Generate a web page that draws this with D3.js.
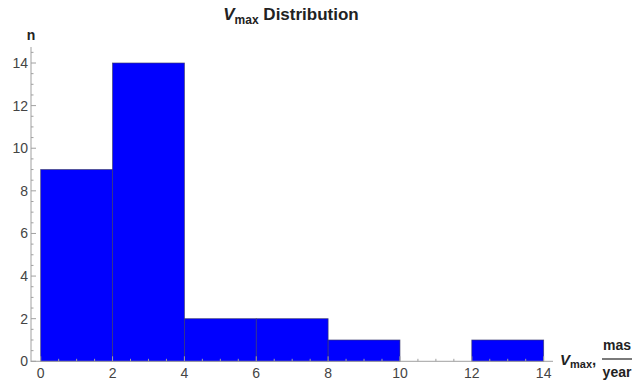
<!DOCTYPE html>
<html><head><meta charset="utf-8">
<script src="https://cdn.jsdelivr.net/npm/d3@7"></script>
<style>body{margin:0;background:#fff}svg{display:block;font-family:"Liberation Sans",Arial,sans-serif}</style>
</head><body><svg id="c" width="644" height="385"></svg>
<script>
const binStarts = [0, 2, 4, 6, 8, 10, 12];
const binWidth = 2;
const counts = [9, 14, 2, 2, 1, 0, 1];
const xTicks = [0, 2, 4, 6, 8, 10, 12, 14];
const yTicks = [0, 2, 4, 6, 8, 10, 12, 14];

const svg = d3.select("#c");
const x = d3.scaleLinear().domain([-0.27, 14.26]).range([31, 553]);
const y = d3.scaleLinear().domain([0, 14]).range([361.3, 63]);
const axisCol = "#a0a0a0", txtCol = "#444";

// bars
svg.append("g").selectAll("rect").data(counts.map((c,i)=>({s:binStarts[i],c})).filter(d=>d.c>0))
  .join("rect")
  .attr("x", d=>x(d.s)).attr("width", d=>x(d.s+binWidth)-x(d.s))
  .attr("y", d=>y(d.c)).attr("height", d=>y(0)-y(d.c))
  .attr("fill", "#0000ff").attr("stroke", "#3a3a6a").attr("stroke-width", 0.8).attr("stroke-opacity", 0.8);

// y axis
const ya = svg.append("g");
ya.append("line").attr("x1", 31).attr("x2", 31).attr("y1", 47).attr("y2", 362).attr("stroke", axisCol);
const yMinor = d3.range(0, 14.75, 0.5);
ya.selectAll("line.t").data(yMinor).join("line").attr("class","t")
  .attr("x1", 31).attr("x2", d=> d%2===0 ? 36 : 33.5)
  .attr("y1", d=>y(d)).attr("y2", d=>y(d)).attr("stroke", axisCol);
ya.selectAll("text").data(yTicks).join("text")
  .attr("x", 28).attr("y", d=>y(d)+5).attr("text-anchor","end")
  .attr("font-size", 14).attr("fill", txtCol).text(d=>d);

// x axis
const xa = svg.append("g");
xa.append("line").attr("x1", 31).attr("x2", 553).attr("y1", 361.3).attr("y2", 361.3).attr("stroke", axisCol);
const xMinor = d3.range(0, 14.01, 0.5);
xa.selectAll("line.t").data(xMinor).join("line").attr("class","t")
  .attr("y1", 361.3).attr("y2", d=> d%2===0 ? 356.3 : 358.8)
  .attr("x1", d=>x(d)).attr("x2", d=>x(d)).attr("stroke", axisCol);
xa.selectAll("text").data(xTicks).join("text")
  .attr("x", d=>x(d)).attr("y", 378).attr("text-anchor","middle")
  .attr("font-size", 14).attr("fill", txtCol).text(d=>d);

// labels
svg.append("text").attr("x", 31).attr("y", 40).attr("text-anchor","middle")
  .attr("font-size", 14).attr("font-weight","bold").attr("fill","#222").text("n");

const t = svg.append("text").attr("x", 291).attr("y", 20).attr("text-anchor","middle")
  .attr("font-size", 17).attr("font-weight","bold").attr("fill","#222");
t.append("tspan").attr("font-style","italic").text("V");
t.append("tspan").attr("font-size", 12).attr("dy", 4).text("max");
t.append("tspan").attr("dy", -4).text(" Distribution");

const xl = svg.append("text").attr("x", 560).attr("y", 365).attr("font-size", 15).attr("font-weight","bold").attr("fill","#222");
xl.append("tspan").attr("font-style","italic").text("V");
xl.append("tspan").attr("font-size", 11).attr("dy", 3).text("max");
xl.append("tspan").attr("dy", -3).text(",");
svg.append("text").attr("x", 617).attr("y", 350).attr("text-anchor","middle").attr("font-size", 14).attr("font-weight","bold").attr("fill","#222").text("mas");
svg.append("line").attr("x1", 602).attr("x2", 632).attr("y1", 359).attr("y2", 359).attr("stroke","#222").attr("stroke-width",1.2);
svg.append("text").attr("x", 617).attr("y", 377).attr("text-anchor","middle").attr("font-size", 14).attr("font-weight","bold").attr("fill","#222").text("year");
</script></body></html>
